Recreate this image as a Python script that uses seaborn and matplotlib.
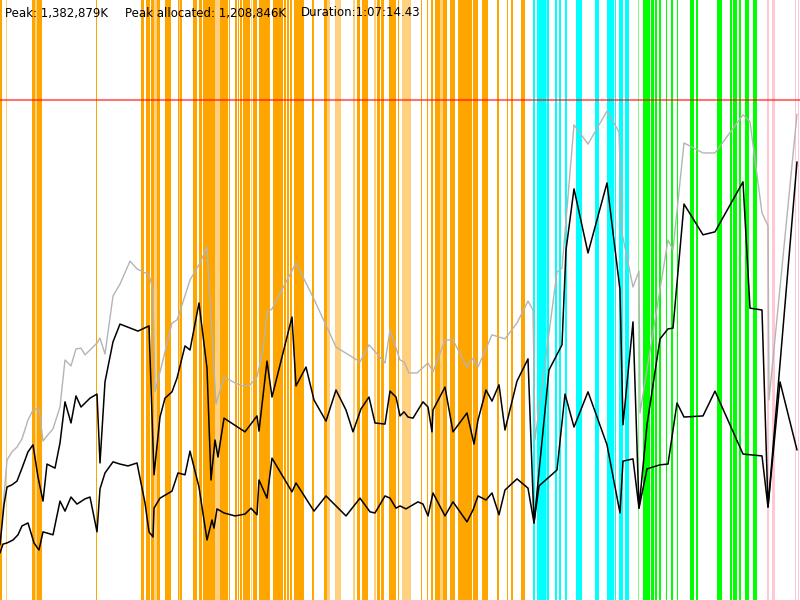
"""
GC log overview: heap committed / used before GC / used after GC,
with one coloured stripe per collection event.
"""

import matplotlib
matplotlib.use("Agg")
import matplotlib.pyplot as plt
import seaborn as sns

# ---------------------------------------------------------------
# data  (x: elapsed time in ~5 s ticks, run = 1:07:14 -> 800 ticks;
#        y: memory in MB)
# ---------------------------------------------------------------

peak_mb = 1350  # 1,382,879K

# heap committed (grey)
t_total = [2, 7, 12, 17, 22, 28, 33, 39, 43, 47, 53, 60, 65, 71, 76, 81, 85, 90,
           97, 100, 105, 113, 120, 130, 137, 143, 149, 153, 155, 163, 172, 177,
           183, 190, 200, 207, 216, 224, 235, 243, 250, 257, 263, 267, 272, 296,
           313, 336, 360, 369, 385, 390, 400, 404, 409, 417, 428, 433, 445, 453,
           467, 473, 478, 492, 505, 517, 528, 533, 535, 557, 562, 574, 588, 607,
           619, 622, 633, 639, 640, 668, 673, 684, 703, 715, 743, 750, 762, 768,
           769, 797]
mb_total = [216, 378, 400, 413, 435, 486, 513, 518, 429, 443, 462, 521, 648, 632,
            678, 680, 662, 675, 694, 707, 664, 821, 853, 915, 894, 886, 878, 837,
            562, 648, 748, 756, 805, 864, 910, 953, 529, 602, 586, 578, 581, 602,
            675, 778, 786, 910, 818, 683, 643, 689, 640, 729, 648, 643, 613, 613,
            640, 616, 702, 702, 629, 653, 629, 716, 705, 748, 807, 783, 432, 886,
            896, 1283, 1231, 1320, 1264, 991, 845, 888, 505, 972, 945, 1234, 1207,
            1207, 1310, 1291, 1045, 1010, 540, 1312]

# used before collection (upper black)
t_before = [0, 4, 7, 12, 17, 22, 28, 33, 38, 43, 47, 55, 60, 65, 71, 76, 81, 90,
            97, 100, 105, 113, 120, 138, 149, 154, 160, 165, 172, 177, 185, 190,
            199, 207, 211, 215, 218, 224, 245, 257, 259, 267, 272, 292, 296, 306,
            314, 326, 336, 346, 353, 361, 369, 375, 385, 390, 396, 400, 404, 408,
            413, 423, 428, 432, 433, 445, 453, 467, 474, 478, 486, 492, 499, 505,
            517, 528, 534, 549, 562, 566, 574, 588, 607, 620, 623, 633, 639, 647,
            660, 668, 673, 684, 703, 715, 743, 750, 762, 768, 797]
mb_before = [149, 257, 305, 311, 321, 356, 400, 419, 332, 267, 367, 356, 424, 535,
             478, 551, 521, 545, 556, 370, 589, 697, 745, 726, 740, 338, 494, 545,
             562, 599, 686, 675, 802, 626, 324, 432, 386, 491, 454, 497, 456, 645,
             548, 764, 578, 629, 540, 483, 567, 513, 454, 516, 548, 478, 475, 564,
             548, 497, 508, 494, 491, 535, 521, 454, 513, 575, 454, 505, 421, 486,
             567, 537, 581, 459, 591, 651, 208, 621, 689, 945, 1110, 937, 1126,
             837, 473, 751, 248, 473, 705, 732, 734, 1069, 986, 994, 1129, 788,
             783, 251, 1183]

# used after collection (lower black)
t_after = [0, 3, 7, 13, 18, 22, 28, 34, 39, 43, 53, 60, 65, 71, 77, 85, 90, 97,
           100, 105, 113, 120, 128, 137, 145, 149, 153, 154, 160, 172, 178, 185,
           190, 199, 207, 212, 214, 217, 224, 235, 245, 251, 257, 259, 267, 272,
           292, 296, 314, 326, 346, 360, 370, 375, 385, 390, 396, 400, 406, 418,
           423, 428, 433, 445, 453, 467, 473, 478, 486, 492, 499, 505, 517, 528,
           534, 539, 557, 565, 574, 588, 607, 620, 623, 633, 639, 647, 660, 668,
           677, 684, 703, 715, 743, 762, 768, 780, 797]
mb_after = [127, 151, 154, 162, 176, 200, 208, 154, 135, 184, 176, 267, 240, 278,
            259, 273, 278, 184, 300, 343, 373, 367, 362, 370, 262, 184, 170, 248,
            275, 294, 343, 338, 402, 305, 162, 216, 194, 246, 235, 227, 232, 248,
            230, 324, 275, 383, 292, 316, 240, 281, 227, 275, 238, 235, 281, 275,
            248, 254, 246, 265, 259, 227, 289, 227, 265, 211, 243, 281, 270, 289,
            230, 297, 327, 302, 208, 308, 351, 556, 467, 562, 419, 235, 375, 381,
            248, 354, 365, 367, 532, 494, 497, 564, 394, 389, 251, 589, 405]

# collection events as (start, end) stripes, per collector phase
young_spans = [(0, 2), (32, 35), (37, 42), (96, 97), (141, 144), (146, 150),
               (151, 154), (157, 160), (165, 171), (178, 179), (180, 182),
               (193, 197), (199, 202), (203, 215), (220, 228), (229, 230),
               (235, 237), (238, 239), (240, 242), (243, 250), (253, 257),
               (259, 270), (273, 283), (284, 286), (287, 289), (290, 292),
               (294, 302), (302.5, 303.5), (312, 314), (324, 327), (357, 360),
               (362, 368), (377, 380), (381, 384), (389, 396), (398, 399),
               (421, 422), (427, 428), (431, 433), (435, 440), (443, 447),
               (450, 455), (458, 472), (473, 478), (482, 488), (497, 499),
               (507, 508), (511, 513), (521, 525)]
young_pale = [(6, 7), (35, 37), (154, 157), (179, 180), (215, 220), (251, 252),
              (327, 330), (335, 341), (353, 355), (374, 376), (402, 411),
              (440, 443)]
mixed_spans = [(533, 535), (537, 546), (547, 549), (555, 557), (559, 561),
               (565, 567), (576, 582), (595, 599), (607, 614), (615, 616),
               (619, 623), (625, 629)]
mixed_pale = [(546, 547)]
full_spans = [(643, 650), (651, 654), (655, 657), (659, 661), (666, 667),
              (671, 673), (677, 678), (690, 694), (696, 698), (717, 722),
              (730, 732), (733, 737), (739, 741), (745, 749), (753, 757)]
full_pale = [(638, 639)]
remark_spans = [(767, 769), (772, 775), (795, 796), (798, 799)]

header = ["Peak: 1,382,879K", "Peak allocated: 1,208,846K", "Duration:1:07:14.43"]
header_x = [5, 125, 301]

# ---------------------------------------------------------------
# plot
# ---------------------------------------------------------------

sns.set_style("white")
plt.rcParams["font.family"] = ["DejaVu Sans"]

fig = plt.figure(figsize=(8, 6), dpi=100)
ax = fig.add_axes([0, 0, 1, 1])

# stripes are drawn a little wider than their span, like 1px lines
pad = 0.4
for spans, colour, alpha in [(young_spans, "#FFA500", 1.0),
                             (young_pale, "#FFA500", 0.5),
                             (mixed_spans, "#00FFFF", 1.0),
                             (mixed_pale, "#00FFFF", 0.5),
                             (full_spans, "#00FF00", 1.0),
                             (full_pale, "#00FF00", 0.5),
                             (remark_spans, "#FFC8D2", 1.0)]:
    for a, b in spans:
        ax.axvspan(a - pad, b + pad, color=colour, alpha=alpha, lw=0, zorder=1)

sns.lineplot(x=t_total, y=mb_total, color="#B4B4B4", linewidth=1.0,
             sort=False, estimator=None, ax=ax, zorder=3)
sns.lineplot(x=t_before, y=mb_before, color="black", linewidth=1.1,
             sort=False, estimator=None, ax=ax, zorder=4)
sns.lineplot(x=t_after, y=mb_after, color="black", linewidth=1.1,
             sort=False, estimator=None, ax=ax, zorder=4)

ax.axhline(peak_mb, color="red", alpha=0.55, linewidth=1.5, zorder=5)

ax.set_xlim(0, 800)
ax.set_ylim(0, 1620)
ax.axis("off")

for txt, px in zip(header, header_x):
    fig.text(px / 800, 1 - 13 / 600, txt, fontsize=8.5, color="black",
             ha="left", va="center")

fig.savefig("out.png", dpi=100)
print("saved out.png")
